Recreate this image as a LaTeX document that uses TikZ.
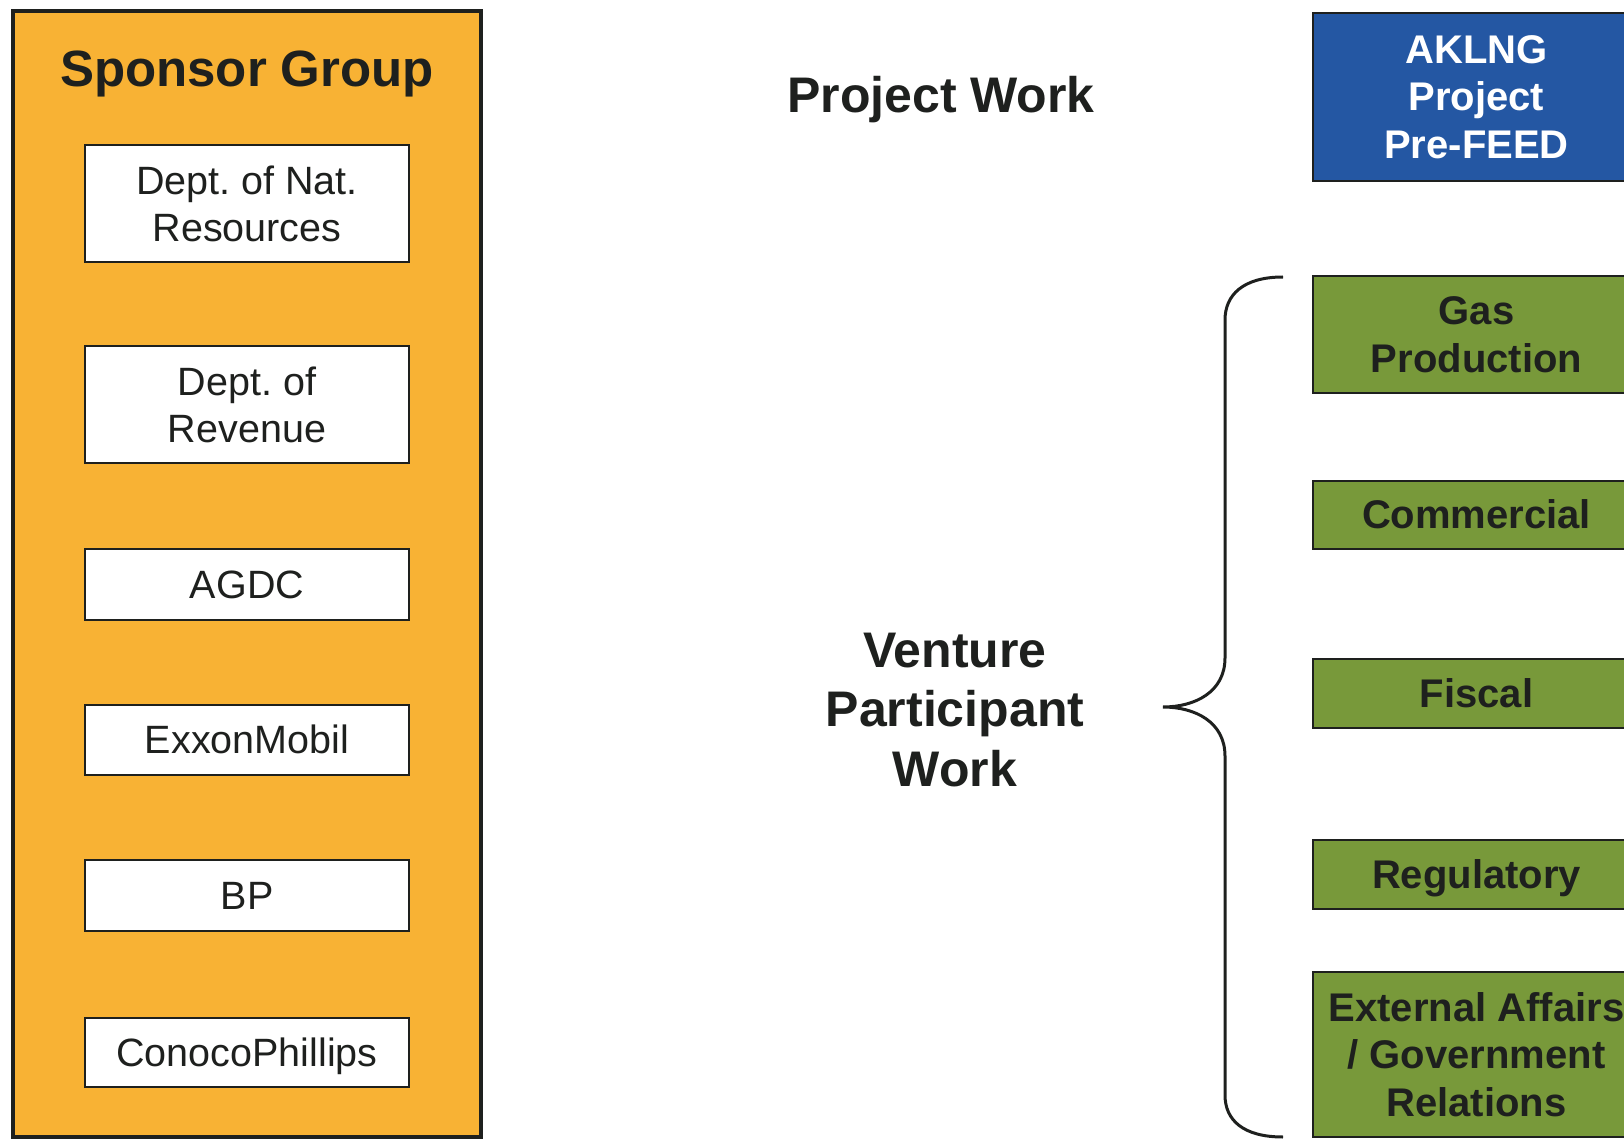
\documentclass[tikz,border=0pt]{standalone}
\usepackage{fontspec}
\setmainfont{Liberation Sans}
\frenchspacing
\definecolor{sponsororange}{RGB}{248,178,52}
\definecolor{workgreen}{RGB}{120,153,58}
\definecolor{projectblue}{RGB}{36,87,163}
\definecolor{inkdark}{RGB}{30,32,30}
\tikzset{%
    member/.style={draw=inkdark, fill=white, line width=1pt, inner sep=0pt, minimum width=162pt, align=center, text=inkdark, font=\fontsize{19.75pt}{23.5pt}\selectfont},
    workstream/.style={draw=inkdark, fill=workgreen, line width=1pt, inner sep=0pt, minimum width=163.5pt, align=center, text=inkdark, font=\bfseries\fontsize{20pt}{23.75pt}\selectfont},
    prefeed/.style={workstream, fill=projectblue, text=white},
    heading/.style={text=inkdark, align=center, font=\bfseries\fontsize{25pt}{29.75pt}\selectfont},
    % one line of text, centred on its line box
    memberline/.style={text height=17.9pt, text depth=4.2pt},
    workline/.style={text height=18.1pt, text depth=4.25pt},
    headline/.style={text height=22.8pt, text depth=5.35pt},
    %group frame
    sponsorframe/.style={draw=inkdark, fill=sponsororange, line width=2pt},
}

\begin{document}
\begin{tikzpicture}[x=0.5pt, y=-0.5pt]

	\useasboundingbox (0,0) rectangle (1624,1139);

	% sponsor group
	\draw[sponsorframe] (13,11) rectangle (481,1137);
	\node[heading, headline, font=\bfseries\fontsize{25.5pt}{31pt}\selectfont] (sponsor) at (247,69.5) {Sponsor Group};

	\node[member, minimum height=58.5pt] (dnr) at (247,203.5) {Dept. of Nat.\\Resources};
	\node[member, minimum height=58.5pt] (dor) at (247,404.5) {Dept. of\\Revenue};
	\node[member, memberline, minimum height=35.5pt] (agdc) at (247,584.5) {AGDC};
	\node[member, memberline, minimum height=35pt] (exxon) at (247,740) {ExxonMobil};
	\node[member, memberline, minimum height=35.5pt] (bp) at (247,895.5) {BP};
	\node[member, memberline, minimum height=34.5pt] (conoco) at (247,1052.5) {ConocoPhillips};

	% headings in the middle
	\node[heading, headline] (projwork) at (941,95) {Project Work};
	\node[heading] (venture) at (955,710) {Venture\\Participant\\Work};

	% project box
	\node[prefeed, minimum height=84pt] (aklng) at (1476.5,97) {AKLNG\\Project\\Pre-FEED};

	% venture work streams
	\node[workstream, minimum height=58.5pt] (gas) at (1476.5,334.5) {Gas\\Production};
	\node[workstream, workline, minimum height=34pt] (commercial) at (1476.5,515) {Commercial};
	\node[workstream, workline, minimum height=34.5pt] (fiscal) at (1476.5,693.5) {Fiscal};
	\node[workstream, workline, minimum height=34.5pt] (regulatory) at (1476.5,874.5) {Regulatory};
	\node[workstream, minimum height=82.5pt] (external) at (1476.5,1054.5) {External Affairs\\/ Government\\Relations};

	% brace
	\coordinate (bracetop) at (1283,277);
	\coordinate (bracetip) at (1163,707);
	\coordinate (bracebot) at (1283,1137);
	\draw[inkdark, line width=1.5pt] (bracetop) .. controls (1243,277) and (1225,295) .. (1225,320)
		-- (1225,658) .. controls (1225,692) and (1195,707) .. (bracetip)
		.. controls (1195,707) and (1225,722) .. (1225,756)
		-- (1225,1095) .. controls (1225,1120) and (1243,1137) .. (bracebot);

\end{tikzpicture}
\end{document}
